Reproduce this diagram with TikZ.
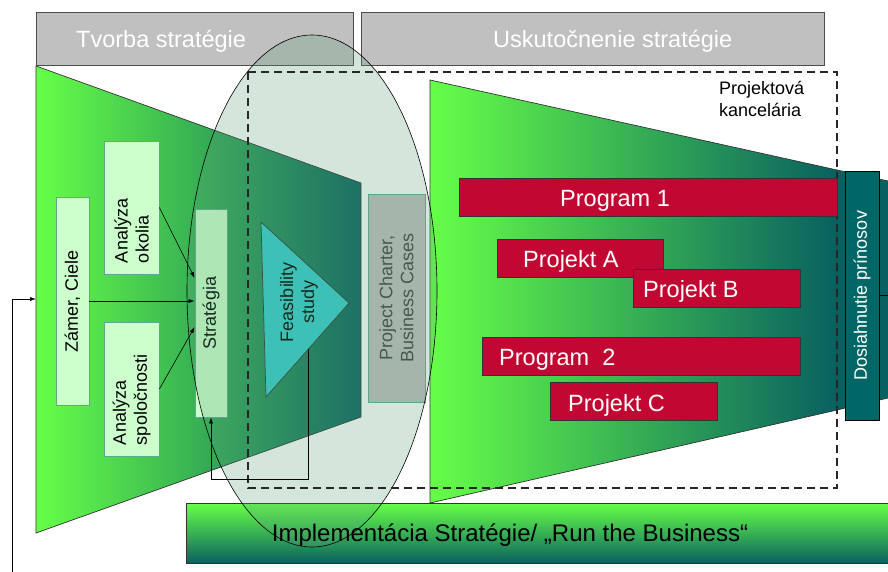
\documentclass[tikz,border=0pt]{standalone}
\usepackage{fontspec}
\setmainfont{Liberation Sans}
\usetikzlibrary{shapes.geometric,arrows.meta,calc}
\definecolor{lgr}{RGB}{102,255,72}
\definecolor{mgr}{RGB}{80,208,92}
\definecolor{dteal}{RGB}{8,96,96}
\definecolor{hdr}{RGB}{192,192,192}
\definecolor{pale}{RGB}{204,255,204}
\definecolor{palebd}{RGB}{95,170,140}
\definecolor{cyanf}{RGB}{51,204,204}
\definecolor{redb}{RGB}{194,8,50}
\definecolor{tealbox}{RGB}{0,102,102}
\definecolor{hatchc}{RGB}{90,160,120}
\begin{document}
\begin{tikzpicture}[x=1pt,y=-1pt,
  big/.style={font=\fontsize{23.5}{28}\selectfont},
  small/.style={font=\fontsize{18}{21}\selectfont},
  hdrbox/.style={draw=black!70,fill=hdr,line width=0.8pt,inner sep=0pt,anchor=north west},
  hdrtxt/.style={big,text=white,inner sep=0pt,anchor=base west},
  pbox/.style={draw=palebd,fill=pale,line width=0.8pt,rotate=90,small,inner sep=0pt},
  redbox/.style={draw=black!80,fill=redb,line width=0.8pt,inner sep=0pt,anchor=north west},
  redtxt/.style={big,text=white,inner sep=0pt,anchor=base west},
  arr/.style={-{Latex[length=6pt,width=4pt]},line width=0.6pt},
  trap/.style={draw=black!80,line width=0.7pt}]
\useasboundingbox (0,0) rectangle (888,572);
\clip (0,0) rectangle (888,572);

% headers
\node[hdrbox,minimum width=317,minimum height=53] (h1) at (36,12) {};
\node[hdrtxt] (h1t) at (76,48) {Tvorba stratégie};
\node[hdrbox,minimum width=463,minimum height=53] (h2) at (361,12) {};
\node[hdrtxt] (h2t) at (493,48) {Uskutočnenie stratégie};

% left trapezoid
\path[trap,left color=lgr,middle color=mgr,right color=dteal]
  (36,66) -- (361,183) -- (361,417) -- (36,533) -- cycle;

% right trapezoid
\path[trap,left color=lgr,middle color=mgr,right color=dteal]
  (430,80) -- (837,170) -- (837,410) -- (430,503) -- cycle;
\path[fill=dteal] (837,170) -- (888,181) -- (888,398) -- (837,410) -- cycle;
\draw[trap] (837,170) -- (888,181) (837,410) -- (888,398);

% left boxes
\node[pbox,minimum width=208,minimum height=33] (zamer) at (72.5,301) {Zámer, Ciele};
\node[pbox,minimum width=133,minimum height=55,text width=111,align=left] (okolia) at (131.5,207.5) {Analýza\\okolia};
\node[pbox,minimum width=134,minimum height=55,text width=112,align=left] (spol) at (131.5,389) {Analýza\\spoločnosti};
\node[pbox,minimum width=208,minimum height=32] (strat) at (211,313) {Stratégia};

% feasibility triangle
\draw[fill=cyanf,draw=black!80,line width=0.7pt] (261,222) coordinate (ta) -- (349,303) coordinate (tb) -- (266,397) coordinate (tc) -- cycle;
\node[small,rotate=90,align=center,inner sep=0pt] (fs) at (299,302) {Feasibility\\study};
\coordinate (fsb) at ($(tb)!0.494!(tc)$);

% project charter
\node[draw=palebd,fill=black!25,line width=0.8pt,rotate=90,minimum width=208,minimum height=57,small,align=center,text=black!75,inner sep=0pt] (pch) at (396.5,298) {Project Charter,\\Business Cases};

% implementation bar
\node[draw=black!80,line width=0.8pt,top color=lgr,middle color=mgr,bottom color=dteal,minimum width=705,minimum height=60,anchor=north west,inner sep=0pt] (impl) at (186,503) {};

% ellipse overlay (translucent hatch)
\node[ellipse,draw=black,line width=0.6pt,fill=hatchc,fill opacity=0.26,minimum width=250,minimum height=512,inner sep=0pt] (ell) at (312,291) {};

% dashed office frame
\draw[black!85,line width=1.3pt,dash pattern=on 8pt off 5pt] (248,72) rectangle (837,488);
\node[anchor=base west,inner sep=0pt,align=left,font=\fontsize{18}{22}\selectfont] (pk) at (719,117) {Projektová\\kancelária};

% red boxes
\node[redbox,minimum width=378,minimum height=38] (p1) at (459,178) {};
\node[redtxt] (p1t) at (560,207) {Program 1};
\node[redbox,minimum width=166,minimum height=38] (pa) at (497,239) {};
\node[redtxt] (pat) at (523,267) {Projekt A};
\node[redbox,minimum width=167,minimum height=38] (pb) at (633,269) {};
\node[redtxt] (pbt) at (643,297) {Projekt B};
\node[redbox,minimum width=318,minimum height=38] (p2) at (482,337) {};
\node[redtxt] (p2t) at (499,365) {Program~~2};
\node[redbox,minimum width=167,minimum height=38] (pc3) at (550,382) {};
\node[redtxt] (pct) at (568,411) {Projekt C};

% benefits box
\node[draw=black,line width=0.8pt,fill=tealbox,minimum width=249,minimum height=34,rotate=90,text=white,small,inner sep=0pt] (dos) at (862,295.5) {Dosiahnutie prínosov};
\draw[line width=0.8pt] (dos.south) -- ++(12,0);

% arrows
\draw[arr] (okolia.south) -- ([yshift=35pt]strat.north);
\draw[arr] (zamer.south) -- (zamer.south -| strat.north);
\draw[arr] (spol.south) -- ([yshift=-14pt]strat.north);
\draw[arr] (fsb) -- ++(0,130) -| (strat.west);
\coordinate (fb0) at (12,572);
\coordinate (ltin) at (36,299);
\draw[arr] (fb0) |- (ltin);

\node[font=\fontsize{24}{28}\selectfont,anchor=base,inner sep=0pt] (implt) at (510,541) {Implementácia Stratégie/ „Run the Business“};
\end{tikzpicture}
\end{document}
